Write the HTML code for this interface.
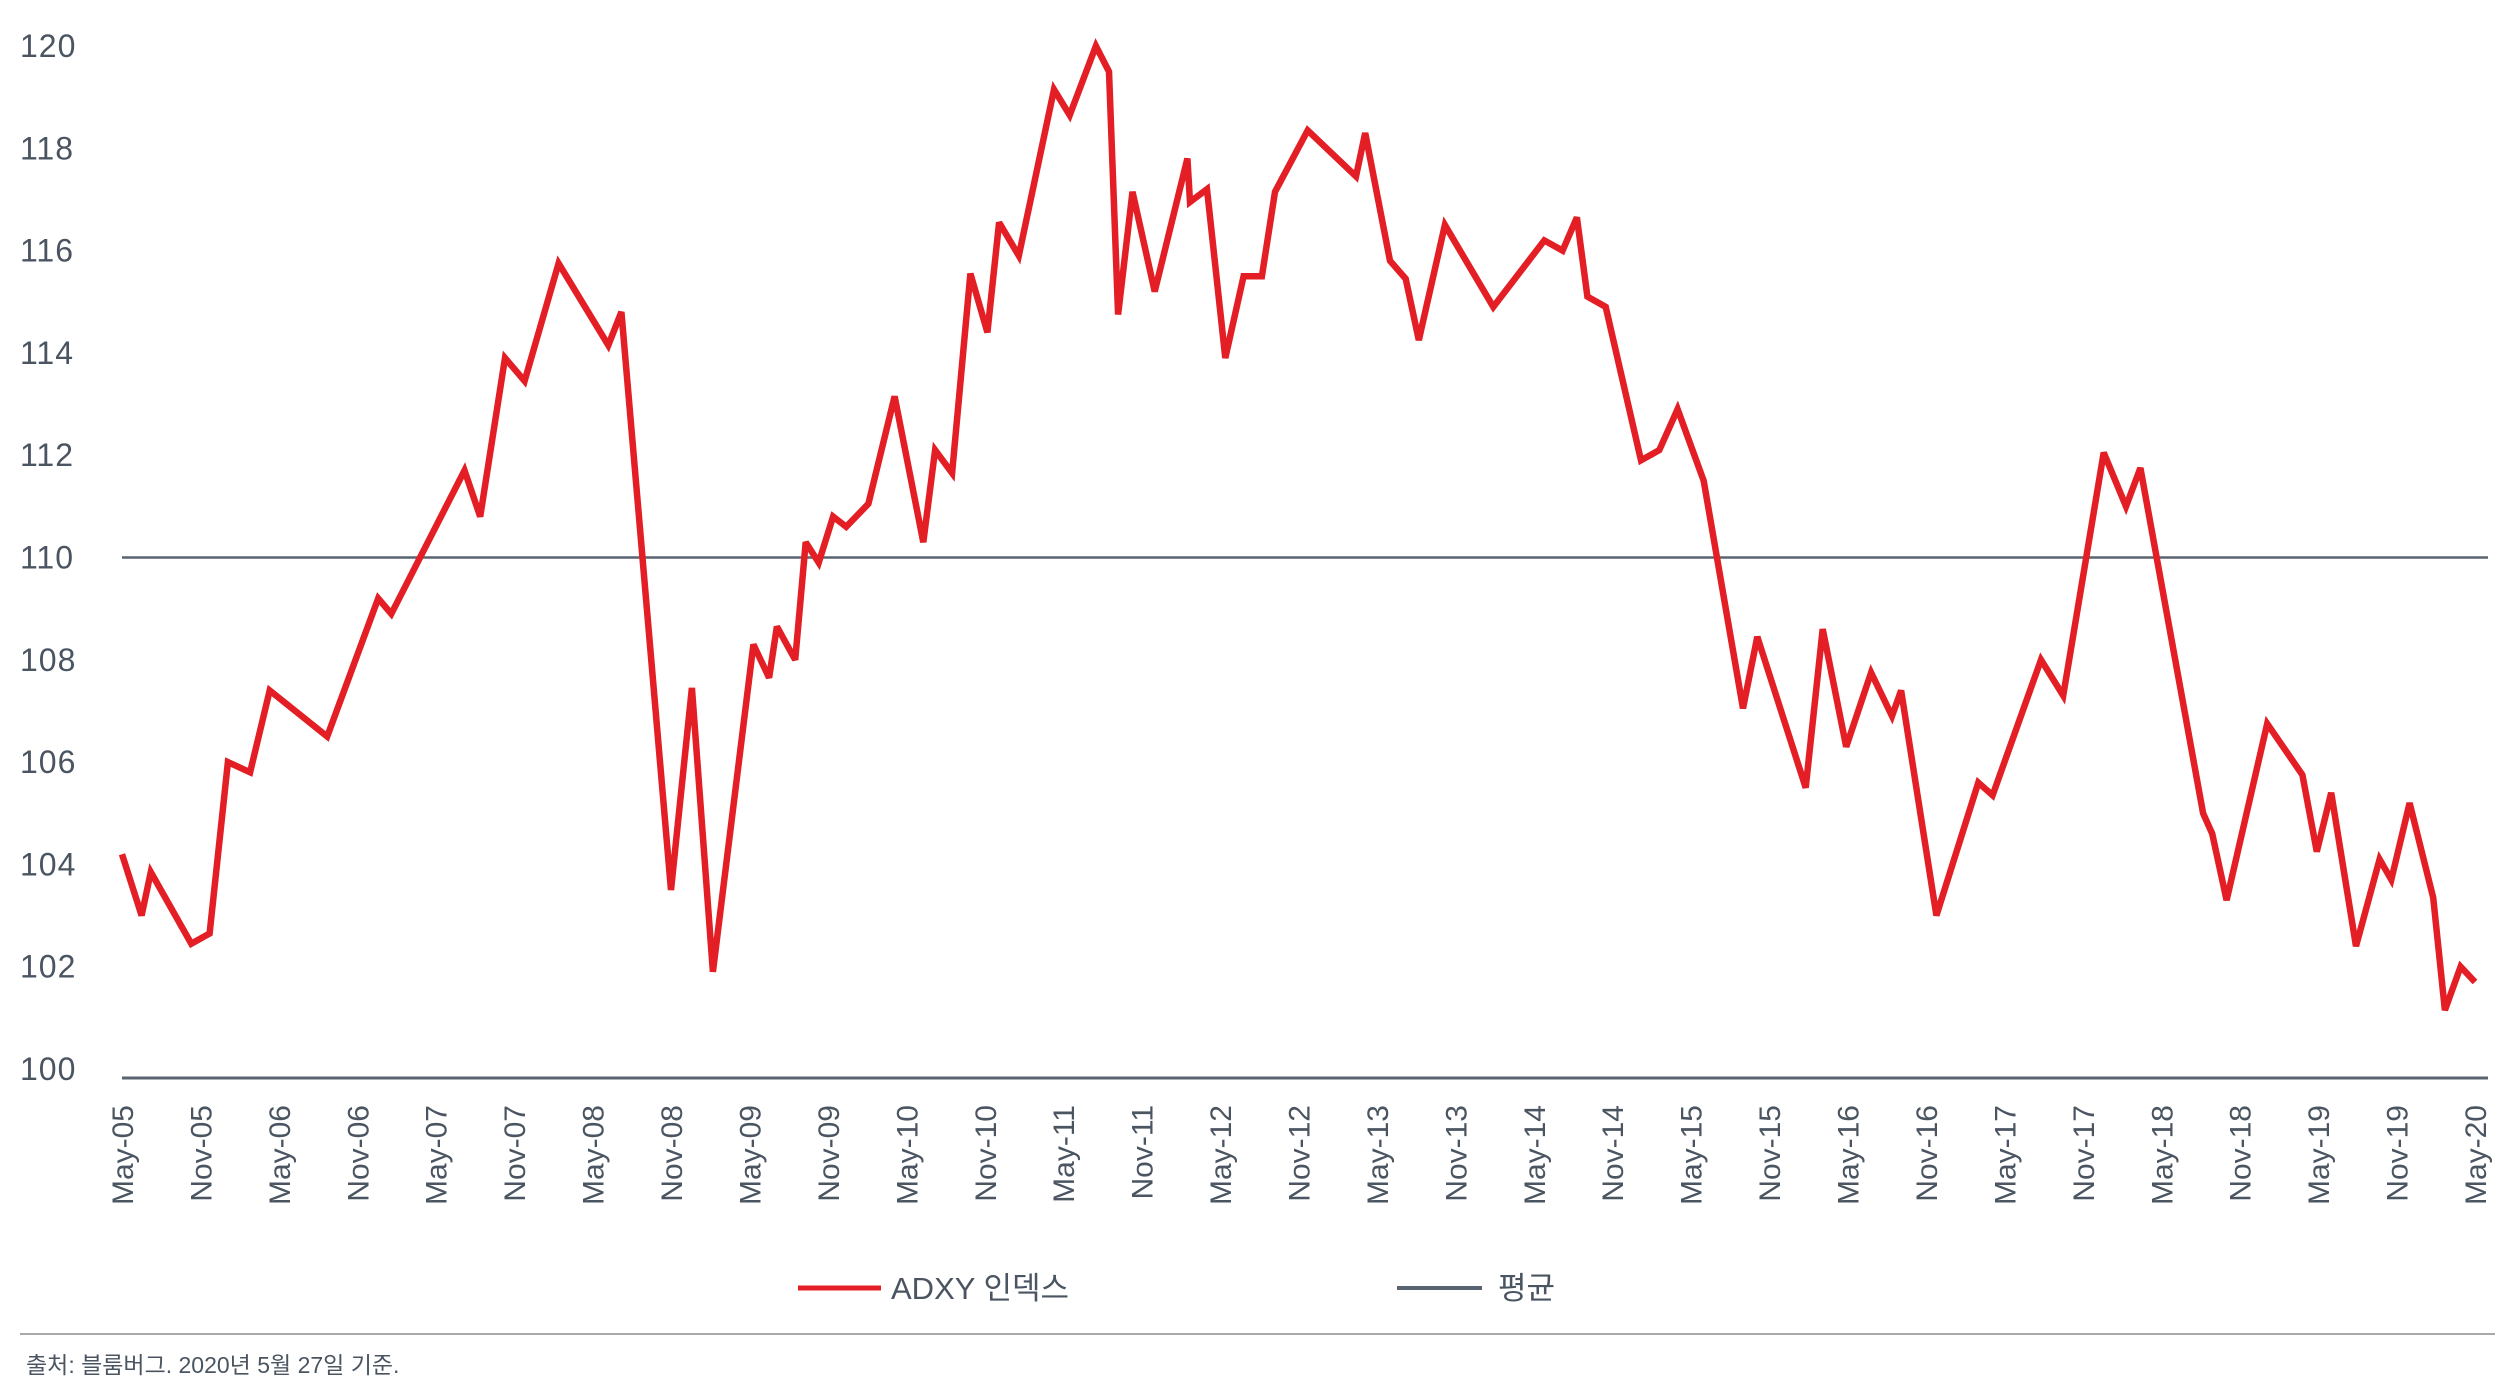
<!DOCTYPE html>
<html><head><meta charset="utf-8">
<style>
html,body{margin:0;padding:0;background:#fff;}
svg{display:block;font-family:"Liberation Sans","Noto Sans CJK KR",sans-serif;}
</style></head>
<body>
<svg id="chart" width="2512" height="1400" viewBox="0 0 2512 1400" xmlns="http://www.w3.org/2000/svg">
<g id="yaxis"></g>
<g id="xaxis"></g>
<g id="series"></g>
<g>
 <line x1="798" y1="1288" x2="881" y2="1288" stroke="#e31e24" stroke-width="5"/>
 <text x="891" y="1299" font-size="31" fill="#4a5561">ADXY 인덱스</text>
 <line x1="1397" y1="1288" x2="1482" y2="1288" stroke="#5a6470" stroke-width="4"/>
 <text x="1498" y="1299" font-size="31" fill="#4a5561">평균</text>
</g>
<line x1="20" y1="1334" x2="2495" y2="1334" stroke="#aaaaaa" stroke-width="2"/>
<text x="26" y="1373" font-size="23" fill="#4a5561">출처: 블룸버그. 2020년 5월 27일 기준.</text>
</svg>
<script>
const yTicks = [100,102,104,106,108,110,112,114,116,118,120];
const xTickLabels = ["May-05","Nov-05","May-06","Nov-06","May-07","Nov-07","May-08","Nov-08","May-09","Nov-09","May-10","Nov-10","May-11","Nov-11","May-12","Nov-12","May-13","Nov-13","May-14","Nov-14","May-15","Nov-15","May-16","Nov-16","May-17","Nov-17","May-18","Nov-18","May-19","Nov-19","May-20"];
const averageValue = 110;
const seriesMonths = [0,1.5,2.2,5.3,6.7,8.1,9.8,11.3,15.7,19.6,20.6,26.2,27.4,29.3,30.8,33.4,37.2,38.2,42.0,43.6,45.2,48.3,49.5,50.1,51.5,52.3,53.3,54.4,55.4,57.1,59.1,61.3,62.2,63.5,64.9,66.2,67.1,68.6,71.3,72.5,74.5,75.5,76.2,77.3,79.0,81.5,81.7,83.0,84.4,85.8,87.2,88.2,90.7,94.4,95.1,97.0,98.2,99.2,101.2,104.9,108.8,110.2,111.3,112.1,113.5,116.2,117.6,119.0,121.0,124.0,125.1,128.8,130.1,131.9,133.8,135.4,136.1,138.8,142.0,143.1,146.8,148.5,151.6,153.3,154.4,159.2,159.9,161.0,164.1,166.8,167.9,169.0,170.9,172.7,173.6,175.0,176.8,177.7,178.9,180.0];
const seriesValues = [104.2,103.0,103.85,102.45,102.65,106.0,105.8,107.4,106.5,109.2,108.9,111.7,110.8,113.9,113.45,115.75,114.15,114.8,103.5,107.45,101.9,108.3,107.65,108.65,108.0,110.3,109.9,110.8,110.6,111.05,113.15,110.3,112.1,111.65,115.55,114.4,116.55,115.9,119.15,118.65,120.0,119.5,114.75,117.15,115.2,117.8,116.95,117.2,113.9,115.5,115.5,117.15,118.35,117.45,118.3,115.8,115.45,114.25,116.5,114.9,116.2,116.0,116.65,115.1,114.9,111.9,112.1,112.9,111.5,107.05,108.45,105.5,108.6,106.3,107.75,106.9,107.4,103.0,105.6,105.35,108.0,107.3,112.05,111.0,111.75,105.0,104.6,103.3,106.75,105.75,104.25,105.4,102.4,104.1,103.7,105.2,103.35,101.15,102.0,101.7];

const NS = "http://www.w3.org/2000/svg";
const X0 = 122, X1 = 2475, MMAX = 180, PLOT_RIGHT = 2488;
const Y_TOP = 46, Y_BOT = 1069, VMIN = 100, VMAX = 120;
function xScale(m){ return X0 + m * (X1 - X0) / MMAX; }
function yScale(v){ return Y_BOT - (v - VMIN) * (Y_BOT - Y_TOP) / (VMAX - VMIN); }
function mk(tag, attrs, parent){ const e = document.createElementNS(NS, tag); for (const k in attrs) e.setAttribute(k, attrs[k]); parent.appendChild(e); return e; }

const yAxis = document.getElementById('yaxis');
yTicks.forEach(v => {
  const t = mk('text', {x: 20, y: yScale(v) + 11, 'font-size': 32, fill: '#4a5561', 'letter-spacing': '1'}, yAxis);
  
  
  t.textContent = v;
});
const base = mk('line', {x1: X0, x2: PLOT_RIGHT, y1: yScale(VMIN) + 9, y2: yScale(VMIN) + 9, stroke: '#5a6470', 'stroke-width': 3}, yAxis);



const xAxis = document.getElementById('xaxis');
xTickLabels.forEach((lab, i) => {
  const x = xScale(i * 6);
  const t = mk('text', {x: 0, y: 0, 'font-size': 30, fill: '#4a5561', 'text-anchor': 'end', transform: `translate(${x + 11},1105) rotate(-90)`}, xAxis);
  
  
  t.textContent = lab;
});

const series = document.getElementById('series');
const avg = mk('line', {x1: X0, x2: PLOT_RIGHT, y1: yScale(averageValue), y2: yScale(averageValue), stroke: '#5a6470', 'stroke-width': 2.5}, series);


const pts = seriesMonths.map((m, i) => xScale(m).toFixed(1) + ',' + yScale(seriesValues[i]).toFixed(1)).join(' ');
const pl = mk('polyline', {points: pts, fill: 'none', stroke: '#e31e24', 'stroke-width': 6.5, 'stroke-linejoin': 'miter', 'stroke-miterlimit': 3}, series);


</script>
</body></html>
